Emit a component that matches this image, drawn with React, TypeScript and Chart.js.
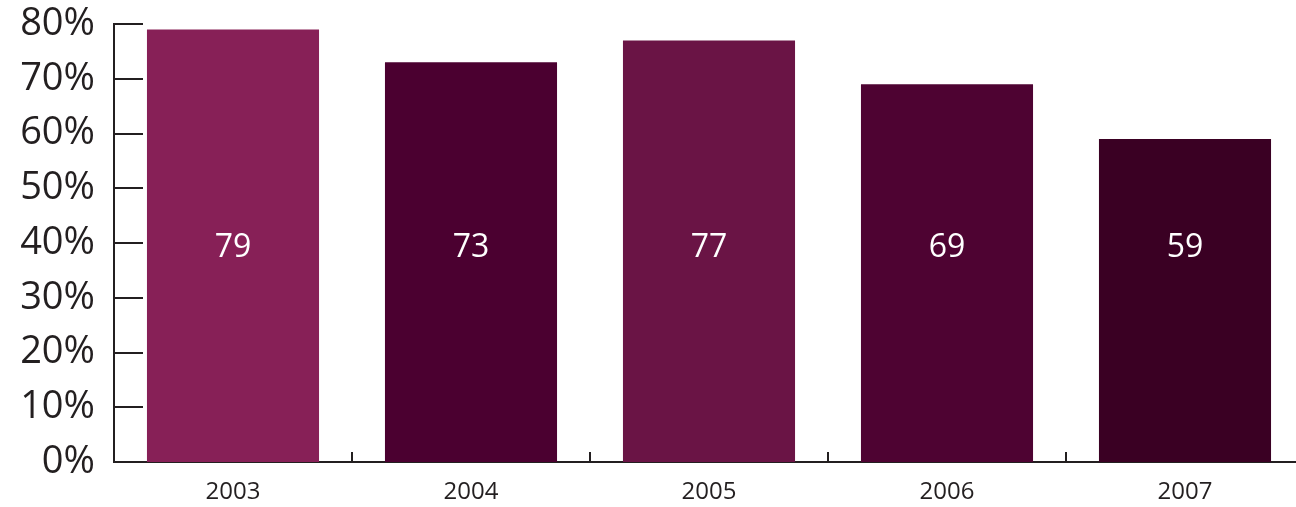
import React, { useEffect, useRef } from "react";
import { Chart, registerables } from "chart.js";

Chart.register(...registerables);

const categories = ["2003", "2004", "2005", "2006", "2007"];
const values = [79, 73, 77, 69, 59];
const barColors = ["#872057", "#4b0030", "#6a1445", "#4e0332", "#3a0023"];
const yTickValues = [0, 10, 20, 30, 40, 50, 60, 70, 80];
const labelValue = 40;

const FONT = "'Open Sans', 'Noto Sans', sans-serif";
const AXIS = "#231f20";

const decorPlugin = {
  id: "decor",
  afterDraw(chart: any) {
    const ctx = chart.ctx;
    const x = chart.scales.x;
    const y = chart.scales.y;
    ctx.save();
    ctx.strokeStyle = AXIS;
    ctx.lineWidth = 2;
    // y ticks drawn inward
    yTickValues.forEach((v) => {
      const py = Math.round(y.getPixelForValue(v));
      ctx.beginPath();
      ctx.moveTo(chart.chartArea.left, py);
      ctx.lineTo(chart.chartArea.left + 29, py);
      ctx.stroke();
    });
    // x ticks at category boundaries, upward
    for (let i = 1; i < categories.length; i++) {
      const px = Math.round((x.getPixelForTick(i - 1) + x.getPixelForTick(i)) / 2);
      ctx.beginPath();
      ctx.moveTo(px, y.bottom);
      ctx.lineTo(px, y.bottom - 10);
      ctx.stroke();
    }
    // value labels
    ctx.fillStyle = "#ffffff";
    ctx.font = `32px ${FONT}`;
    ctx.textAlign = "center";
    ctx.textBaseline = "middle";
    const meta = chart.getDatasetMeta(0);
    meta.data.forEach((bar: any, i: number) => {
      ctx.fillText(String(values[i]), bar.x, y.getPixelForValue(labelValue) + 5);
    });
    ctx.restore();
  },
};

export default function App() {
  const ref = useRef<HTMLCanvasElement>(null);
  useEffect(() => {
    if (!ref.current) return;
    const chart = new Chart(ref.current, {
      type: "bar",
      data: {
        labels: categories,
        datasets: [
          {
            data: values,
            backgroundColor: barColors,
            borderWidth: 0,
            categoryPercentage: 1,
            barPercentage: 0.723,
          },
        ],
      },
      options: {
        animation: false,
        responsive: false,
        events: [],
        layout: { padding: { top: 24, left: 0, right: 0, bottom: 0 } },
        plugins: { legend: { display: false }, tooltip: { enabled: false } },
        scales: {
          x: {
            grid: { display: false, drawTicks: false },
            border: { display: true, color: AXIS, width: 2 },
            ticks: {
              color: AXIS,
              font: { family: FONT, size: 24 },
              padding: 16,
            },
            afterFit(scale: any) {
              scale.height = 45;
              scale.paddingLeft = 0;
              scale.paddingRight = 0;
            },
          },
          y: {
            min: 0,
            max: 80,
            grid: { display: false, drawTicks: false },
            border: { display: true, color: AXIS, width: 2 },
            ticks: {
              stepSize: 10,
              color: AXIS,
              font: { family: FONT, size: 38 },
              padding: 19,
              callback: (v: any) => `${v}%`,
            },
            afterFit(scale: any) {
              scale.width = 114;
              scale.paddingTop = 0;
              scale.paddingBottom = 0;
            },
          },
        },
      },
      plugins: [decorPlugin],
    });
    return () => chart.destroy();
  }, []);
  return (
    <div style={{ position: "fixed", left: 0, top: 0, width: 1304, height: 507, background: "#fff" }}>
      <canvas ref={ref} width={1304} height={507} style={{ display: "block" }} />
    </div>
  );
}
